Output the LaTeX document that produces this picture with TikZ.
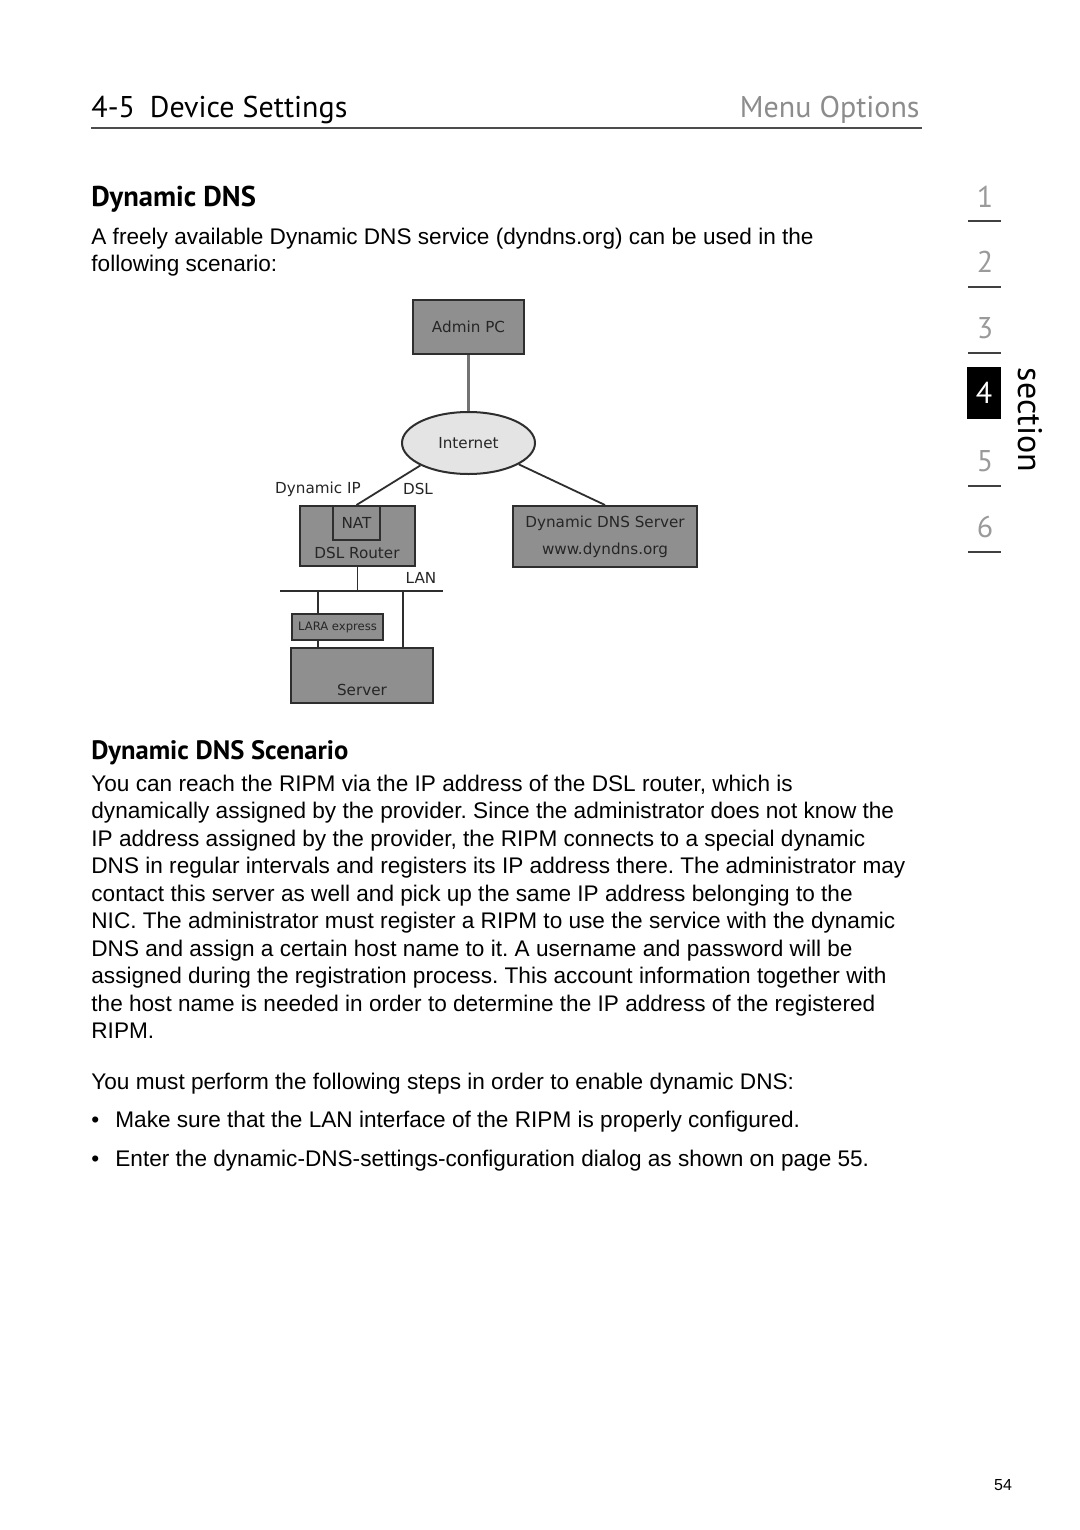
\documentclass[tikz,border=0pt]{standalone}
\usepackage{fontspec}
\setmainfont{Liberation Sans}
\newfontfamily\headfont{PT Sans}
\newfontfamily\diagfont{DejaVu Sans}
\usetikzlibrary{shapes.geometric}
\frenchspacing

\definecolor{boxgray}{HTML}{8F8F8F}
\definecolor{cloudgray}{HTML}{E4E4E4}
\definecolor{edgegray}{HTML}{2E2E2E}
\definecolor{tabgray}{HTML}{9A9A9A}

\begin{document}
\begin{tikzpicture}[x=0.5pt,y=-0.5pt,
    body/.style={anchor=base west,inner sep=0pt,font=\fontsize{11.3}{13.75}\selectfont},
    hsec/.style={anchor=base west,inner sep=0pt,font=\headfont\bfseries\fontsize{13.3}{16}\selectfont},
    netbox/.style={draw=edgegray,fill=boxgray,line width=1pt,rectangle,inner sep=0pt},
    netlbl/.style={inner sep=0pt,text=black!85,font=\diagfont\fontsize{7.6}{9.5}\selectfont},
    wire/.style={draw=edgegray,line width=0.9pt},
    tabnum/.style={inner sep=0pt,text=tabgray,font=\headfont\fontsize{15}{18}\selectfont},
    tabrule/.style={draw=black!75,line width=0.6pt}]

    \useasboundingbox[fill=white] (0,0) rectangle (1080,1530);

    % Page header
    \node[anchor=base west,inner sep=0pt,font=\headfont\fontsize{15}{18}\selectfont] (title) at (91,118) {4-5\hspace{0.5em}Device Settings};
    \node[anchor=base east,inner sep=0pt,text=black!45,font=\headfont\fontsize{15}{18}\selectfont] (menu) at (920,118) {Menu Options};
    \draw[draw=black!70,line width=1pt] (91,128) -- (922,128);

    % Section tabs
    \node[tabnum] (t1) at (985,197) {1};
    \node[tabnum] (t2) at (985,262) {2};
    \node[tabnum] (t3) at (985,328) {3};
    \node[fill=black,text=white,minimum width=17pt,minimum height=26pt,inner sep=0pt,font=\headfont\fontsize{15}{18}\selectfont] (t4) at (984,393) {4};
    \node[tabnum] (t5) at (985,461) {5};
    \node[tabnum] (t6) at (985,527) {6};
    \draw[tabrule] (968,221) -- (1001,221);
    \draw[tabrule] (968,287) -- (1001,287);
    \draw[tabrule] (968,353) -- (1001,353);
    \draw[tabrule] (968,486) -- (1001,486);
    \draw[tabrule] (968,552) -- (1001,552);
    \node[rotate=-90,inner sep=0pt,font=\headfont\fontsize{17}{20}\selectfont] (sect) at (1030,420) {section};

    % Intro
    \node[hsec,font=\headfont\bfseries\fontsize{14.3}{17}\selectfont] (h1) at (91,207) {Dynamic DNS};
    \node[body] (i1) at (91,244) {A freely available Dynamic DNS service (dyndns.org) can be used in the};
    \node[body] (i2) at (91,271) {following scenario:};

    % Network diagram
    \node[netbox,minimum width=55.5pt,minimum height=27pt,netlbl] (adminpc) at (468.5,327) {Admin PC};
    \node[ellipse,draw=edgegray,fill=cloudgray,line width=1pt,minimum width=66.5pt,minimum height=31pt,inner sep=0pt,netlbl] (internet) at (468.5,443) {Internet};
    \node[netbox,minimum width=57.5pt,minimum height=30pt] (router) at (357.5,536) {};
    \node[netbox,minimum width=23.5pt,minimum height=17pt,netlbl] (nat) at (356.5,523) {NAT};
    \node[netlbl] (routertxt) at (357,553) {DSL Router};
    \node[netbox,minimum width=92pt,minimum height=30.5pt,netlbl,align=center,font=\diagfont\fontsize{7.6}{13.5}\selectfont] (ddns) at (605,536.5) {Dynamic DNS Server\\www.dyndns.org};
    \node[netbox,minimum width=45.5pt,minimum height=13pt,netlbl,font=\diagfont\fontsize{5.8}{6}\selectfont] (lara) at (337.5,627) {LARA express};
    \node[netbox,minimum width=71pt,minimum height=27.5pt] (server) at (362,675.5) {};
    \node[netlbl] (servertxt) at (362,690) {Server};

    \node[netlbl] (dynip) at (318,489) {Dynamic IP};
    \node[netlbl] (dsl) at (418,489) {DSL};
    \node[netlbl] (lan) at (421,578) {LAN};

    \coordinate (lanL) at (280,591);
    \coordinate (lanR) at (443,591);
    \coordinate (tapA) at (318,591);
    \coordinate (tapB) at (403,591);

    \draw[wire,draw=black!55,line width=1.4pt] (adminpc.south) -- (internet.north);
    \draw[wire] (internet.205) -- (nat.north);
    \draw[wire] (internet.337) -- (ddns.north);
    \draw[wire] (router.south) -- (router.south |- lanL);
    \draw[wire] (lanL) -- (lanR);
    \draw[wire] (tapA) -- (tapA |- lara.north);
    \draw[wire] (tapA |- lara.south) -- (tapA |- server.north);
    \draw[wire] (tapB) -- (tapB |- server.north);

    % Scenario
    \node[hsec] (h2) at (91,759) {Dynamic DNS Scenario};
    \node[body] (s1) at (91,791) {You can reach the RIPM via the IP address of the DSL router, which is};
    \node[body] (s2) at (91,818.5) {dynamically assigned by the provider. Since the administrator does not know the};
    \node[body] (s3) at (91,846) {IP address assigned by the provider, the RIPM connects to a special dynamic};
    \node[body] (s4) at (91,873.5) {DNS in regular intervals and registers its IP address there. The administrator may};
    \node[body] (s5) at (91,901) {contact this server as well and pick up the same IP address belonging to the};
    \node[body] (s6) at (91,928.5) {NIC. The administrator must register a RIPM to use the service with the dynamic};
    \node[body] (s7) at (91,956) {DNS and assign a certain host name to it. A username and password will be};
    \node[body] (s8) at (91,983.5) {assigned during the registration process. This account information together with};
    \node[body] (s9) at (91,1011) {the host name is needed in order to determine the IP address of the registered};
    \node[body] (s10) at (91,1038.5) {RIPM.};

    \node[body] (m1) at (91,1089) {You must perform the following steps in order to enable dynamic DNS:};
    \node[body] (b1) at (91,1127) {\textbullet};
    \node[body] (b1t) at (115,1127) {Make sure that the LAN interface of the RIPM is properly configured.};
    \node[body] (b2) at (91,1166) {\textbullet};
    \node[body] (b2t) at (115,1166) {Enter the dynamic-DNS-settings-configuration dialog as shown on page 55.};

    % Page number
    \node[inner sep=0pt,font=\fontsize{8}{10}\selectfont] (pgno) at (1003,1485) {54};
\end{tikzpicture}
\end{document}
